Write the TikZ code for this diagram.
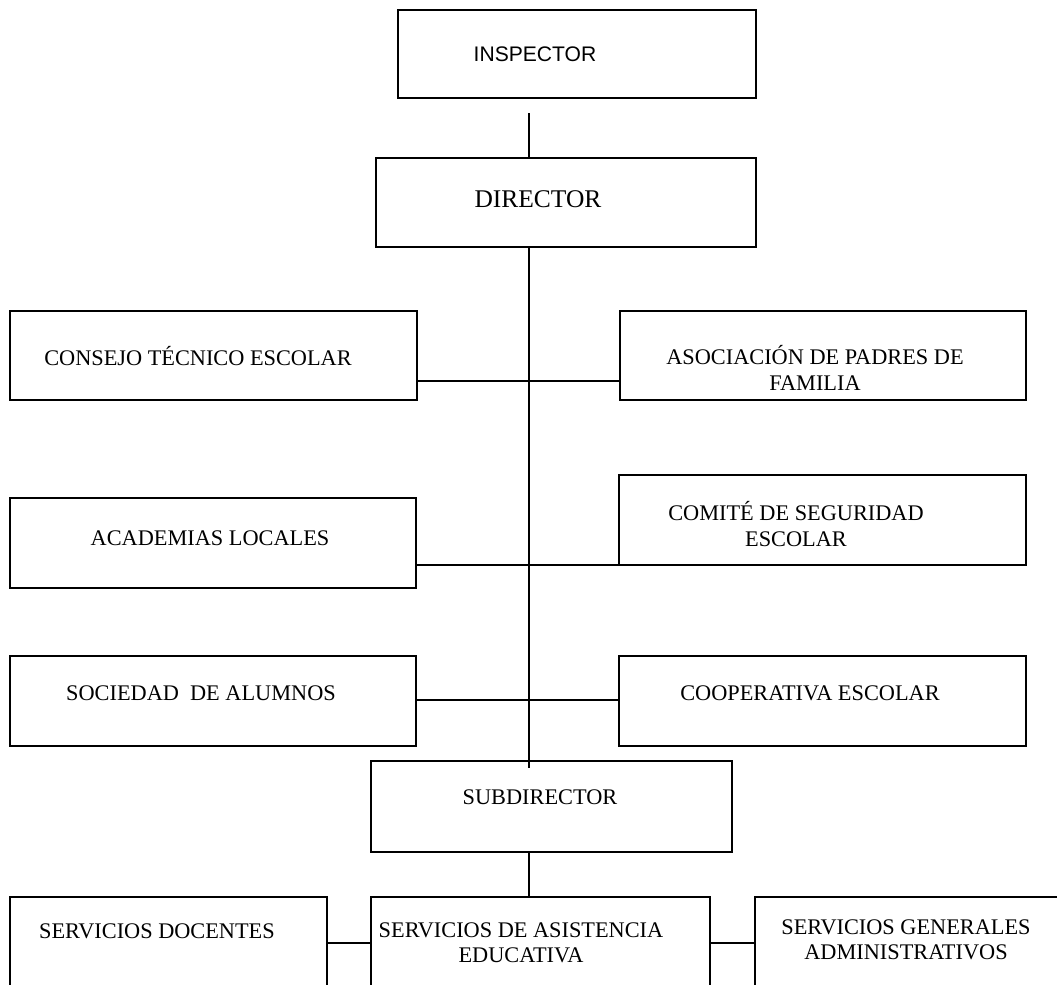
\documentclass[tikz,border=0pt]{standalone}
\usepackage{fontspec}
\setmainfont{Liberation Serif}
\newfontfamily\arialfont{Liberation Sans}
\usetikzlibrary{calc,positioning}

\begin{document}
\begin{tikzpicture}[x=0.02cm,y=-0.02cm,line width=1pt,
caja/.style={rectangle,draw,inner sep=0pt},
texto/.style={inner sep=0pt,align=center,font=\fontsize{12.7}{14.4}\selectfont}]
\useasboundingbox (0,0) rectangle (1057,984);
\clip (0,0) rectangle (1057,984);
% cajas
\node[caja](ins) at (577,54) [minimum width=7.16cm, minimum height=1.76cm] {};
\node[caja](dir) at (566,202.5) [minimum width=7.6cm, minimum height=1.78cm] {};
\node[caja](cte) at (213.5,355.5) [minimum width=8.14cm, minimum height=1.78cm] {};
\node[caja](apf) at (823,355.5) [minimum width=8.12cm, minimum height=1.78cm] {};
\node[caja](aca) at (213,543) [minimum width=8.12cm, minimum height=1.8cm] {};
\node[caja](cse) at (822.5,520) [minimum width=8.14cm, minimum height=1.8cm] {};
\node[caja](soc) at (213,701) [minimum width=8.12cm, minimum height=1.8cm] {};
\node[caja](coo) at (822.5,701) [minimum width=8.14cm, minimum height=1.8cm] {};
\node[caja](sub) at (551.5,806.5) [minimum width=7.22cm, minimum height=1.82cm] {};
\node[caja](sdo) at (168.5,947) [minimum width=6.34cm, minimum height=2cm] {};
\node[caja](sda) at (540.5,947) [minimum width=6.78cm, minimum height=2cm] {};
\node[caja](sga) at (927.5,947) [minimum width=6.9cm, minimum height=2cm] {};
% textos
\node[texto,font=\arialfont\fontsize{12}{13.8}\selectfont](ins-t) at (535,54) {INSPECTOR};
\node[texto,font=\fontsize{14.5}{16.5}\selectfont](dir-t) at (538,199) {DIRECTOR};
\node[texto](cte-t) at (198,356) {CONSEJO TÉCNICO ESCOLAR};
\node[texto](apf-t) at (815,368) {ASOCIACIÓN DE PADRES DE\\FAMILIA};
\node[texto](aca-t) at (210,538) {ACADEMIAS LOCALES};
\node[texto](cse-t) at (796,524) {COMITÉ DE SEGURIDAD\\ESCOLAR};
\node[texto](soc-t) at (201,693) {SOCIEDAD\ \ DE ALUMNOS};
\node[texto](coo-t) at (810,693) {COOPERATIVA ESCOLAR};
\node[texto](sub-t) at (540,797) {SUBDIRECTOR};
\node[texto](sdo-t) at (157,931) {SERVICIOS DOCENTES};
\node[texto](sda-t) at (521,943) {SERVICIOS DE ASISTENCIA\\EDUCATIVA};
\node[texto](sga-t) at (906,940) {SERVICIOS GENERALES\\ADMINISTRATIVOS};
% lineas
\coordinate (eje) at (529,113);
\coordinate (pt1) at (529,768);
\coordinate (c1) at (529,381);
\coordinate (c2) at (529,565);
\coordinate (c3) at (529,700);
\coordinate (c4) at (529,943);
\draw[-] (eje)--(eje |- dir.north);
\draw[-] (eje |- dir.south)--(pt1);
\draw[-] (cte.east |- c1)--(apf.west |- c1);
\draw[-] (aca.east |- c2)--(cse.west |- c2);
\draw[-] (soc.east |- c3)--(coo.west |- c3);
\draw[-] (eje |- sub.south)--(eje |- sda.north);
\draw[-] (sdo.east |- c4)--(sda.west |- c4);
\draw[-] (sda.east |- c4)--(sga.west |- c4);
\end{tikzpicture}
\end{document}
